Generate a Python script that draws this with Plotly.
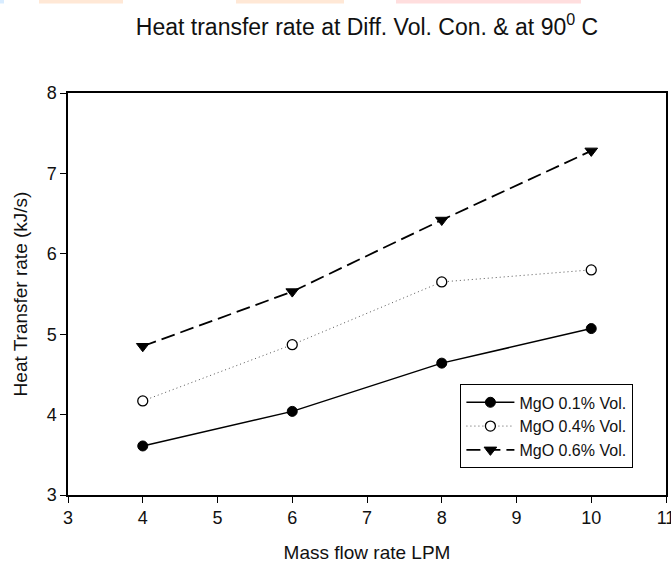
import plotly.graph_objects as go

flow_lpm = [4, 6, 8, 10]
mgo_01 = [3.61, 4.04, 4.64, 5.07]
mgo_04 = [4.17, 4.87, 5.65, 5.80]
mgo_06 = [4.85, 5.53, 6.42, 7.28]
series_names = ["MgO 0.1% Vol.", "MgO 0.4% Vol.", "MgO 0.6% Vol."]
x_ticks = [3, 4, 5, 6, 7, 8, 9, 10, 11]
y_ticks = [3, 4, 5, 6, 7, 8]

FONT = "Liberation Sans, Arial, sans-serif"
TXT = "#111111"

fig = go.Figure()
fig.add_trace(go.Scatter(
    x=flow_lpm, y=mgo_01, name=series_names[0], mode="lines+markers",
    line=dict(color="black", width=1.5, dash="solid"),
    marker=dict(symbol="circle", size=10, color="black", line=dict(color="black", width=1)),
))
fig.add_trace(go.Scatter(
    x=flow_lpm, y=mgo_04, name=series_names[1], mode="lines+markers",
    line=dict(color="#555555", width=1, dash="1px,3px"),
    marker=dict(symbol="circle", size=10, color="white", line=dict(color="black", width=1.3)),
))
fig.add_trace(go.Scatter(
    x=flow_lpm, y=mgo_06, name=series_names[2], mode="lines+markers",
    line=dict(color="black", width=1.8, dash="14px,6px"),
    marker=dict(symbol="triangle-down", size=11, color="black", line=dict(color="black", width=1)),
))

# faint coloured bands along the very top edge of the source image
def px_to_paper_x(px):
    return (px - 68) / 598

def px_to_paper_y(py):
    return (495 - py) / 402

bands = [(0, 4, "#d8ecff"), (39, 123, "#ffe8d6"), (236, 344, "#ffe8d6"), (396, 581, "#ffdede")]
shapes = []
for x0, x1, col in bands:
    shapes.append(dict(type="rect", xref="paper", yref="paper",
                       x0=px_to_paper_x(x0), x1=px_to_paper_x(x1),
                       y0=px_to_paper_y(3.5), y1=px_to_paper_y(0),
                       fillcolor=col, line=dict(width=0), layer="below"))

fig.update_layout(
    width=671, height=564,
    margin=dict(l=68, r=5, t=93, b=69, autoexpand=False),
    paper_bgcolor="white", plot_bgcolor="white",
    font=dict(family=FONT, color=TXT, size=16),
    shapes=shapes,
    title=dict(
        text="Heat transfer rate at Diff. Vol. Con. & at 90<sup>0</sup> C",
        x=0.5, xref="paper", xanchor="center",
        y=1 - 27 / 564, yref="container", yanchor="middle",
        font=dict(size=23, family=FONT, color=TXT),
    ),
    showlegend=True,
    legend=dict(
        x=0.945, y=0.067, xanchor="right", yanchor="bottom",
        bordercolor="black", borderwidth=1.3, bgcolor="white",
        font=dict(size=16, family=FONT, color=TXT),
        itemwidth=48, tracegroupgap=0,
    ),
)

fig.update_xaxes(
    range=[3, 11], tickvals=x_ticks, ticktext=[str(v) for v in x_ticks],
    showgrid=False, zeroline=False, automargin=False,
    showline=True, linecolor="black", linewidth=1.5, mirror=True,
    ticks="outside", ticklen=6, tickwidth=1.3, tickcolor="black",
    ticklabeloverflow="allow",
    tickfont=dict(size=18, family=FONT, color=TXT),
    title=dict(text="Mass flow rate LPM", font=dict(size=19, family=FONT, color=TXT), standoff=18),
)
fig.update_yaxes(
    range=[3, 8], tickvals=y_ticks, ticktext=[str(v) for v in y_ticks],
    showgrid=False, zeroline=False, automargin=False,
    showline=True, linecolor="black", linewidth=1.5, mirror=True,
    ticks="outside", ticklen=6, tickwidth=1.3, tickcolor="black",
    tickfont=dict(size=18, family=FONT, color=TXT),
    title=dict(text="Heat Transfer rate (kJ/s)", font=dict(size=19, family=FONT, color=TXT), standoff=14),
)

fig.write_html("out.html")
